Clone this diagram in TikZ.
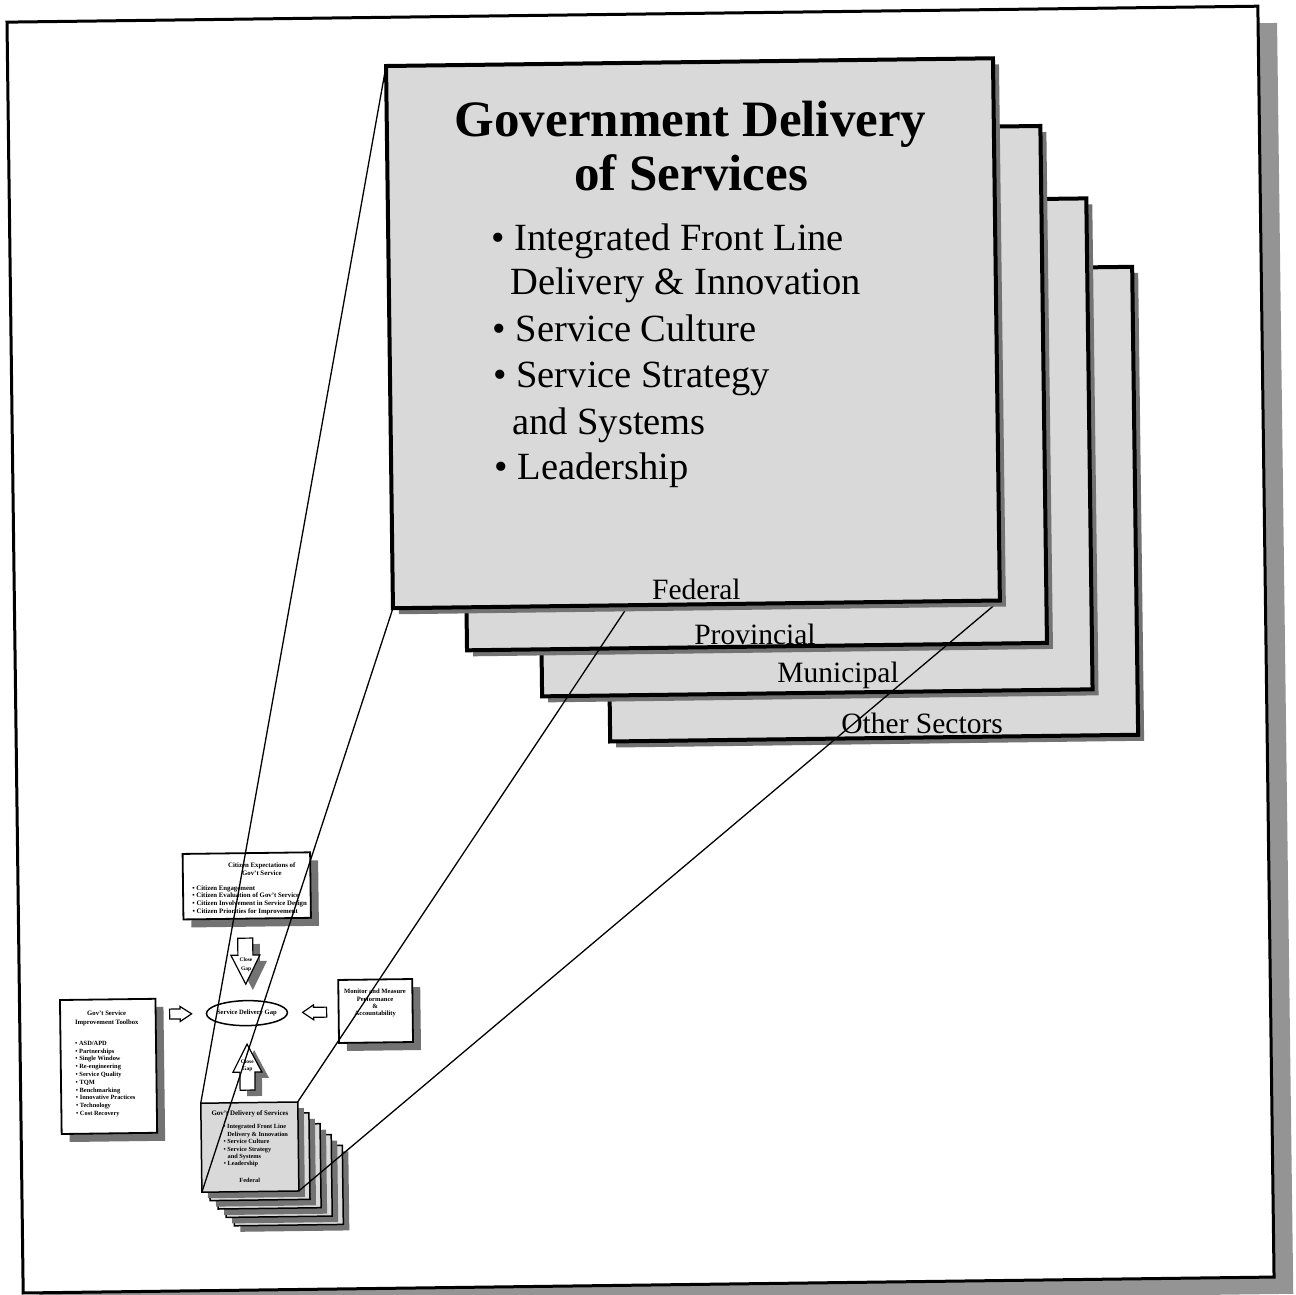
\documentclass[tikz,border=0pt]{standalone}
\usepackage{fontspec}
\setmainfont{Liberation Serif}
\usetikzlibrary{shapes.geometric,shadows}
\definecolor{cardfill}{gray}{0.85}
\definecolor{shade}{gray}{0.45}
\definecolor{frameshade}{gray}{0.58}
\tikzset{
  tilted/.style={transform shape},
  bigcard/.style={tilted, draw, line width=4pt, fill=cardfill, anchor=north west,
    inner sep=0pt, outer sep=0pt,
    drop shadow={shadow xshift=6pt, shadow yshift=-6pt, fill=shade, opacity=1}},
  minicard/.style={tilted, draw, line width=1.5pt, fill=cardfill, anchor=north west,
    inner sep=0pt, outer sep=0pt,
    drop shadow={shadow xshift=6pt, shadow yshift=-6pt, fill=shade, opacity=1}},
  smallbox/.style={tilted, draw, line width=1.8pt, fill=white, anchor=north west,
    inner sep=0pt, outer sep=0pt,
    drop shadow={shadow xshift=8pt, shadow yshift=-8pt, fill=shade, opacity=1}},
  ttl/.style={anchor=base, inner sep=0pt, font=\bfseries\fontsize{51}{55}\selectfont},
  blt/.style={anchor=base west, inner sep=0pt, font=\fontsize{38.5}{44}\selectfont},
  lbl/.style={anchor=base, inner sep=0pt, font=\fontsize{29.5}{32}\selectfont},
  sbl/.style={anchor=base west, inner sep=0pt, font=\bfseries\fontsize{6.4}{7}\selectfont},
  sct/.style={anchor=base, inner sep=0pt, font=\bfseries\fontsize{6.7}{7}\selectfont},
  arrtxt/.style={anchor=base, inner sep=0pt, font=\bfseries\fontsize{5.5}{6}\selectfont},
  projline/.style={line width=1.3pt},
  blockarrow/.style={draw, line width=1.2pt, fill=white, line join=miter},
  arrowshade/.style={fill=shade},
}
\begin{document}
\begin{tikzpicture}[x=1pt,y=-1pt]
\useasboundingbox (0,0) rectangle (1296,1295);
\fill[white] (0,0) rectangle (1296,1295);
\begin{scope}[rotate around={0.73:(648,648)}]

% page frame with its shadow
\fill[frameshade] (31,31) rectangle (1285,1302);
\draw[line width=3pt, fill=white] (15,14) rectangle (1266,1285);

% ---- small overview diagram ----
% toolbox
\node[smallbox, minimum width=95.5, minimum height=134] (tool) at (55.5,992.5) {};
\node[sct] (toolt1) at (102,1008.5) {Gov't Service};
\node[sct] (toolt2) at (102,1017.5) {Improvement Toolbox};
\node[sbl] (tl1) at (70,1038.0) {• ASD/APD};
\node[sbl] (tl2) at (70,1045.8) {• Partnerships};
\node[sbl] (tl3) at (70,1053.6) {• Single Window};
\node[sbl] (tl4) at (70,1061.4) {• Re-engineering};
\node[sbl] (tl5) at (70,1069.2) {• Service Quality};
\node[sbl] (tl6) at (70,1077.0) {• TQM};
\node[sbl] (tl7) at (70,1084.8) {• Benchmarking};
\node[sbl] (tl8) at (70,1092.6) {• Innovative Practices};
\node[sbl] (tl9) at (70,1100.4) {• Technology};
\node[sbl] (tl10) at (70,1108.2) {• Cost Recovery};

% citizen expectations
\node[smallbox, minimum width=127.5, minimum height=65.5] (cit) at (180,848) {};
\node[sct, font=\bfseries\fontsize{6.8}{7}\selectfont] (citt1) at (259,862.5) {Citizen Expectations of};
\node[sct, font=\bfseries\fontsize{6.8}{7}\selectfont] (citt2) at (259,870.5) {Gov't Service};
\node[sbl, font=\bfseries\fontsize{6.8}{7}\selectfont] (cb1) at (189,884.5) {• Citizen Engagement};
\node[sbl, font=\bfseries\fontsize{6.8}{7}\selectfont] (cb2) at (189,892.1) {• Citizen Evaluation of Gov't Service};
\node[sbl, font=\bfseries\fontsize{6.8}{7}\selectfont] (cb3) at (189,899.7) {• Citizen Involvement in Service Design};
\node[sbl, font=\bfseries\fontsize{6.8}{7}\selectfont] (cb4) at (189,907.3) {• Citizen Priorities for Improvement};

% monitor and measure
\node[smallbox, minimum width=74, minimum height=63] (mon) at (334,976) {};
\node[sct, font=\bfseries\fontsize{6.6}{7}\selectfont] (mont1) at (370.6,990) {Monitor and Measure};
\node[sct, font=\bfseries\fontsize{6.6}{7}\selectfont] (mont2) at (370.6,998) {Performance};
\node[sct, font=\bfseries\fontsize{6.6}{7}\selectfont] (mont3) at (370.6,1005) {\&};
\node[sct, font=\bfseries\fontsize{6.6}{7}\selectfont] (mont4) at (370.6,1012) {Accountability};

% service delivery gap
\node[tilted, ellipse, draw, line width=1.5pt, fill=white, minimum width=81, minimum height=25,
      inner sep=0pt] (gap) at (242.3,1008) {};
\node[sct, anchor=center, font=\bfseries\fontsize{6.6}{7}\selectfont] (gapt) at (gap.center) {Service Delivery Gap};

% side arrows
\path[blockarrow] (165,1003) -- (175.5,1003) -- (175.5,1000.5) -- (187,1008)
   -- (175.5,1015.5) -- (175.5,1013) -- (165,1013) -- cycle;
\path[blockarrow] (322,1003) -- (309,1003) -- (309,1000.5) -- (298,1008)
   -- (309,1015.5) -- (309,1013) -- (322,1013) -- cycle;

% downward arrow
\path[arrowshade] (241,939) -- (256,939) -- (256,956) -- (263,956) -- (248.5,985)
   -- (234,956) -- (241,956) -- cycle;
\path[blockarrow] (234,933) -- (249,933) -- (249,950) -- (256,950) -- (241.5,979)
   -- (227,950) -- (234,950) -- cycle;
\node[arrtxt] (dn1) at (242,956) {Close};
\node[arrtxt] (dn2) at (242,965) {Gap};

% upward arrow
\path[arrowshade] (241.5,1091) -- (256.5,1091) -- (256.5,1073) -- (263.5,1073) -- (249,1045)
   -- (234.5,1073) -- (241.5,1073) -- cycle;
\path[blockarrow] (234.5,1085) -- (249.5,1085) -- (249.5,1067) -- (256.5,1067) -- (242,1039)
   -- (227.5,1067) -- (234.5,1067) -- cycle;
\node[arrtxt] (up1) at (242,1058.5) {Close};
\node[arrtxt] (up2) at (242,1065) {Gap};

% small stack of delivery cards
\node[minicard, minimum width=109, minimum height=79] (m4) at (227,1141.5) {};
\node[minicard, minimum width=106, minimum height=81.5] (m3) at (219,1130.5) {};
\node[minicard, minimum width=103, minimum height=84] (m2) at (211,1119.5) {};
\node[minicard, minimum width=100, minimum height=86.5] (m1) at (203,1108.5) {};
\node[minicard, minimum width=97, minimum height=89] (m0) at (195,1097.5) {};
\node[sct, font=\bfseries\fontsize{6.9}{7}\selectfont] (mt) at (244,1110) {Gov't Delivery of Services};
\node[sbl, font=\bfseries\fontsize{6.3}{7}\selectfont] (mb1) at (217,1123.5) {• Integrated Front Line};
\node[sbl, font=\bfseries\fontsize{6.3}{7}\selectfont] (mb2) at (221,1130.9) {Delivery \& Innovation};
\node[sbl, font=\bfseries\fontsize{6.3}{7}\selectfont] (mb3) at (217,1138.3) {• Service Culture};
\node[sbl, font=\bfseries\fontsize{6.3}{7}\selectfont] (mb4) at (217,1145.7) {• Service Strategy};
\node[sbl, font=\bfseries\fontsize{6.3}{7}\selectfont] (mb5) at (221,1153.1) {and Systems};
\node[sbl, font=\bfseries\fontsize{6.3}{7}\selectfont] (mb6) at (217,1160.5) {• Leadership};
\node[sct, font=\bfseries\fontsize{6.3}{7}\selectfont] (mf) at (243,1177) {Federal};

% ---- large stack of delivery cards ----
\node[bigcard, minimum width=528, minimum height=468] (oth) at (609,273) {};
\node[lbl] (othl) at (921,736.5) {Other Sectors};
\node[bigcard, minimum width=550.5, minimum height=491] (mun) at (541.5,204) {};
\node[lbl] (munl) at (837.6,685) {Municipal};
\node[bigcard, minimum width=580, minimum height=517] (prv) at (467,131) {};
\node[lbl] (prvl) at (755,645.4) {Provincial};

% the front card's placement, used by the projection lines
\path (393.5,62.7) coordinate (fNW) (1000.5,62.7) coordinate (fNE)
      (393.5,605) coordinate (fSW) (1000.5,605) coordinate (fSE);

% projection lines from the small card to the large one
\draw[projline] (fNW) -- (m0.north west);
\draw[projline] (fSW) -- (m0.south west);
\draw[projline] (fNE) -- (m0.north east);
\draw[projline] (fSE) -- (m0.south east);

% front card: federal
\node[bigcard, minimum width=607, minimum height=542.3] (fed) at (fNW) {};
\node[ttl] (h1) at (697,137.5) {Government Delivery};
\node[ttl] (h2) at (697,191.5) {of Services};
\node[blt] (b1) at (496.5,249) {• Integrated Front Line};
\node[blt] (b2) at (514.7,293) {Delivery \& Innovation};
\node[blt] (b3) at (496.5,340) {• Service Culture};
\node[blt] (b4) at (496.5,386) {• Service Strategy};
\node[blt] (b5) at (514.7,433) {and Systems};
\node[blt] (b6) at (496.5,478) {• Leadership};
\node[lbl] (fedl) at (697,600.6) {Federal};

\end{scope}
\end{tikzpicture}
\end{document}
